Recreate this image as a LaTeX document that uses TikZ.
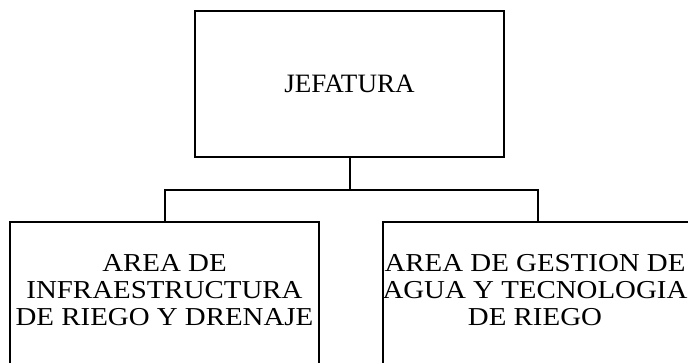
\documentclass[tikz,border=0pt]{standalone}
\usepackage{fontspec}
\setmainfont{Liberation Serif}
\newfontfamily\headfont[FakeStretch=1.02]{Liberation Serif}
\newfontfamily\widefont[FakeStretch=1.12]{Liberation Serif}
\usetikzlibrary{positioning}

\begin{document}
\begin{tikzpicture}[x=1pt, y=1pt, line width=2pt,
    orgbox/.style={draw, minimum width=309pt, inner sep=0pt},
    areatext/.style={align=center, font=\widefont\fontsize{25.8}{26.7}\selectfont, inner sep=0pt}]
      \useasboundingbox (0,0) rectangle (688,363);
      \clip (0,0) rectangle (688,363);
      \node[orgbox, minimum height=146pt, font=\headfont\fontsize{26.5}{28}\selectfont] (jefatura) at (349.5,279) {JEFATURA};
      \node[orgbox, minimum height=172pt, anchor=north] (infra) at (164.5,142) {};
      \node[orgbox, minimum height=172pt, anchor=north] (gestion) at (537.5,142) {};
      \node[areatext] (infratxt) at (164.5,73) {AREA DE\\INFRAESTRUCTURA\\DE RIEGO Y DRENAJE};
      \node[areatext] (gestiontxt) at (535,73) {AREA DE GESTION DE\\AGUA Y TECNOLOGIA\\DE RIEGO};

      \coordinate (split) at ([yshift=-32pt]jefatura.south);
      \draw (jefatura.south) -- (split) -| (infra.north);
      \draw (split) -| (gestion.north);
    \end{tikzpicture}
\end{document}
